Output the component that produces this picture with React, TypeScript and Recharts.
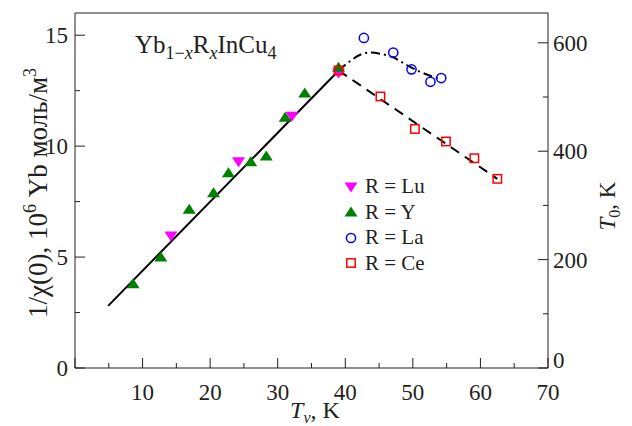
import {
  ComposedChart,
  Customized,
  Legend,
  Line,
  ReferenceLine,
  Scatter,
  XAxis,
  YAxis
} from 'recharts';

const FONT = '"Liberation Serif", "Times New Roman", serif';
const INK = '#231f20';

// R = Lu, 1/chi(0) (left axis)
const luTv = [14.2, 24.2, 32.1, 39.0];
const luChi = [5.95, 9.3, 11.35, 13.3];

// R = Y, 1/chi(0) (left axis)
const yTv = [8.6, 12.7, 16.9, 20.5, 22.7, 26.0, 28.3, 31.1, 34.0, 39.0];
const yChi = [3.8, 5.0, 7.15, 7.9, 8.8, 9.3, 9.55, 11.3, 12.4, 13.55];

// R = La, T0 (right axis)
const laTv = [42.75, 47.1, 49.8, 52.6, 54.2];
const laT0 = [609, 582, 551, 528, 535];

// R = Ce, T0 (right axis)
const ceTv = [39.0, 45.2, 50.3, 54.9, 59.1, 62.5];
const ceT0 = [549, 501, 441, 418, 387, 349];

// guide curves
const fitTv = [4.9, 39.0];
const fitChi = [2.8, 13.4];
const ceFitTv = [39.0, 62.5];
const ceFitT0 = [549, 349];
const laFitTv = [39.0, 40.7, 42.2, 43.6, 45.1, 47.1, 49.1, 51.0, 54.0];
const laFitT0 = [549, 566, 578, 582, 580, 573, 559, 547, 533];

const xTicks = [0, 5, 10, 15, 20, 25, 30, 35, 40, 45, 50, 55, 60, 65, 70];
const leftTicks = [0, 2.5, 5, 7.5, 10, 12.5, 15];
const rightTicks = [0, 100, 200, 300, 400, 500, 600];

const pairs = (xs: number[], ys: number[]) => xs.map((x, i) => ({ x, y: ys[i] }));

const luData = pairs(luTv, luChi);
const yData = pairs(yTv, yChi);
const laData = pairs(laTv, laT0);
const ceData = pairs(ceTv, ceT0);
const fitData = pairs(fitTv, fitChi);
const ceFitData = pairs(ceFitTv, ceFitT0);
const laFitData = pairs(laFitTv, laFitT0);

const legendItems = [
  { name: 'R = Lu', kind: 'down' },
  { name: 'R = Y', kind: 'up' },
  { name: 'R = La', kind: 'circle' },
  { name: 'R = Ce', kind: 'square' }
];

const Marker = ({ kind, cx, cy }: { kind: string; cx: number; cy: number }) => {
  if (kind === 'down') {
    return <path d={`M${cx - 6.5},${cy - 4.5} L${cx + 6.5},${cy - 4.5} L${cx},${cy + 5.5} Z`} fill="#ff00ff" />;
  }
  if (kind === 'up') {
    return <path d={`M${cx - 6.5},${cy + 4.5} L${cx + 6.5},${cy + 4.5} L${cx},${cy - 5.5} Z`} fill="#008000" />;
  }
  if (kind === 'circle') {
    return <circle cx={cx} cy={cy} r={4.6} fill="none" stroke="#0000ff" strokeWidth={1.5} />;
  }
  return <rect x={cx - 4.2} y={cy - 4.2} width={8.4} height={8.4} fill="none" stroke="#ff0000" strokeWidth={1.5} />;
};

const shapeOf = (kind: string) => (props: any) => <Marker kind={kind} cx={props.cx} cy={props.cy} />;

const XTick = ({ x, y, payload }: any) => {
  const major = payload.value % 10 === 0;
  return (
    <g>
      <line x1={x} y1={y} x2={x} y2={y - (major ? 10 : 5)} stroke={INK} />
      {major && payload.value !== 0 && (
        <text x={x} y={y + 32} textAnchor="middle" fontFamily={FONT} fontSize={23} fill={INK}>
          {payload.value}
        </text>
      )}
    </g>
  );
};

const LeftTick = ({ x, y, payload }: any) => {
  const major = payload.value % 5 === 0;
  return (
    <g>
      <line x1={x} y1={y} x2={x + (major ? 10 : 5)} y2={y} stroke={INK} />
      {major && (
        <text x={x - 7} y={y} dy="0.35em" textAnchor="end" fontFamily={FONT} fontSize={23} fill={INK}>
          {payload.value}
        </text>
      )}
    </g>
  );
};

const RightTick = ({ x, y, payload }: any) => {
  const major = payload.value % 200 === 0;
  return (
    <g>
      <line x1={x} y1={y} x2={x - (major ? 10 : 5)} y2={y} stroke={INK} />
      {major && (
        <text
          x={x + 5}
          y={payload.value === 0 ? y - 8 : y}
          dy="0.35em"
          textAnchor="start"
          fontFamily={FONT}
          fontSize={23}
          fill={INK}
        >
          {payload.value}
        </text>
      )}
    </g>
  );
};

const Texts = () => (
  <g fontFamily={FONT} fill={INK}>
    <text x={135} y={53} fontSize={25}>
      Yb
      <tspan fontSize={18} dy={6}>1−</tspan>
      <tspan fontSize={18} fontStyle="italic">x</tspan>
      <tspan dy={-6}>R</tspan>
      <tspan fontSize={18} dy={6} fontStyle="italic">x</tspan>
      <tspan dy={-6}>InCu</tspan>
      <tspan fontSize={18} dy={6}>4</tspan>
    </text>
    <text x={315} y={418} fontSize={24} textAnchor="middle">
      <tspan fontStyle="italic">T</tspan>
      <tspan fontSize={16} dy={5} fontStyle="italic">ν</tspan>
      <tspan dy={-5}>, K</tspan>
    </text>
    <text transform="translate(47,193) rotate(-90)" fontSize={27} textAnchor="middle">
      1/χ(0), 10
      <tspan fontSize={18} dy={-11}>6</tspan>
      <tspan dy={11}> Yb моль/м</tspan>
      <tspan fontSize={18} dy={-11}>3</tspan>
    </text>
    <text transform="translate(615,206) rotate(-90)" fontSize={23} textAnchor="middle">
      <tspan fontStyle="italic">T</tspan>
      <tspan fontSize={16} dy={5}>0</tspan>
      <tspan dy={-5}>, K</tspan>
    </text>
  </g>
);

const renderLegend = () => (
  <div style={{ fontFamily: FONT, fontSize: 21, color: INK }}>
    {legendItems.map((item) => (
      <div key={item.name} style={{ display: 'flex', alignItems: 'center', height: 25.5 }}>
        <svg width={20} height={16} style={{ marginRight: 3 }}>
          <Marker kind={item.kind} cx={9} cy={8} />
        </svg>
        <span>{item.name}</span>
      </div>
    ))}
  </div>
);

export default function App() {
  return (
    <div style={{ position: 'absolute', left: 0, top: 0, background: '#fff' }}>
      <ComposedChart width={632} height={426} margin={{ top: 13, right: 0, bottom: 0, left: 0 }}>
        <XAxis
          dataKey="x"
          type="number"
          domain={[0, 70]}
          ticks={xTicks}
          interval={0}
          height={58}
          tickSize={0}
          tickMargin={0}
          tickLine={false}
          tick={<XTick />}
          axisLine={{ stroke: INK }}
        />
        <YAxis
          yAxisId="left"
          type="number"
          domain={[0, 16]}
          ticks={leftTicks}
          interval={0}
          width={75}
          tickSize={0}
          tickMargin={0}
          tickLine={false}
          tick={<LeftTick />}
          axisLine={{ stroke: INK }}
        />
        <YAxis
          yAxisId="right"
          orientation="right"
          type="number"
          domain={[0, 655]}
          ticks={rightTicks}
          interval={0}
          width={84}
          tickSize={0}
          tickMargin={0}
          tickLine={false}
          tick={<RightTick />}
          axisLine={{ stroke: INK }}
        />
        <ReferenceLine yAxisId="left" y={16} stroke={INK} />
        <Legend
          layout="vertical"
          align="center"
          verticalAlign="middle"
          wrapperStyle={{ left: 342, top: 174, width: 'auto' }}
          content={renderLegend}
        />
        <Scatter name="R = Lu" yAxisId="left" data={luData} dataKey="y" shape={shapeOf('down')} isAnimationActive={false} />
        <Scatter name="R = Y" yAxisId="left" data={yData} dataKey="y" shape={shapeOf('up')} isAnimationActive={false} />
        <Scatter name="R = La" yAxisId="right" data={laData} dataKey="y" shape={shapeOf('circle')} isAnimationActive={false} />
        <Scatter name="R = Ce" yAxisId="right" data={ceData} dataKey="y" shape={shapeOf('square')} isAnimationActive={false} />
        <Line
          yAxisId="left"
          data={fitData}
          dataKey="y"
          type="linear"
          stroke="#000"
          strokeWidth={2}
          dot={false}
          legendType="none"
          isAnimationActive={false}
        />
        <Line
          yAxisId="right"
          data={ceFitData}
          dataKey="y"
          type="linear"
          stroke="#000"
          strokeWidth={2}
          strokeDasharray="10 7"
          dot={false}
          legendType="none"
          isAnimationActive={false}
        />
        <Line
          yAxisId="right"
          data={laFitData}
          dataKey="y"
          type="monotone"
          stroke="#000"
          strokeWidth={2}
          strokeDasharray="9 4 2 4"
          dot={false}
          legendType="none"
          isAnimationActive={false}
        />
        <Customized component={Texts} />
      </ComposedChart>
    </div>
  );
}
